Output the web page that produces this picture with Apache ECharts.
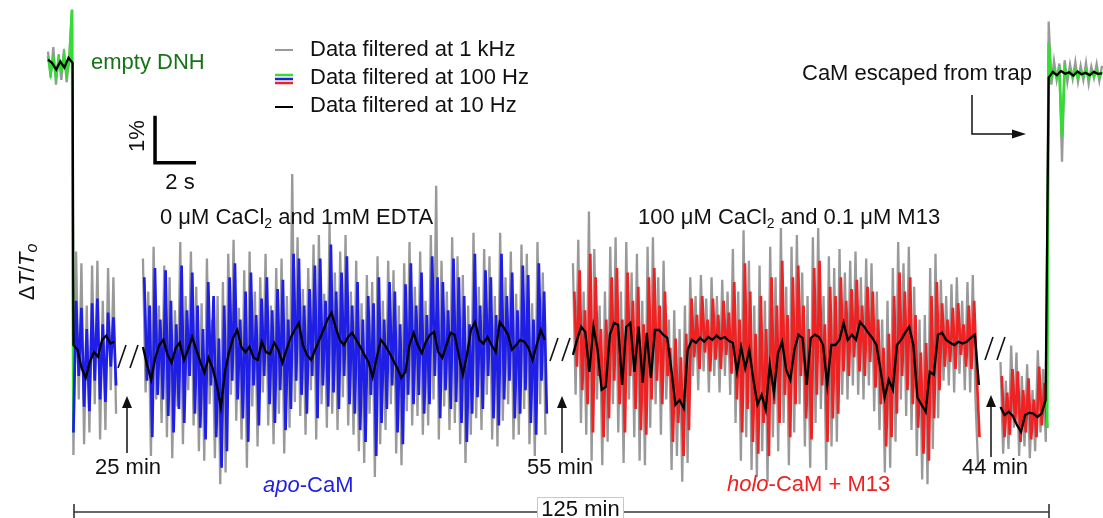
<!DOCTYPE html>
<html><head><meta charset="utf-8">
<script src="https://cdn.jsdelivr.net/npm/echarts@6/dist/echarts.min.js"></script>
<style>html,body{margin:0;padding:0;background:#fff}#c{width:1103px;height:518px}</style>
</head><body><div id="c"></div>
<script>
// Time in seconds (display time, traces separated by breaks), ΔT/To in units of 0.01 %
const segmentNames = ['empty DNH', 'apo-CaM', 'apo-CaM after 25 min', 'holo-CaM + M13 after 55 min', 'holo-CaM + M13 after 44 min', 'CaM escaped'];
const segmentStart = [0, 1.24, 4.63, 25.6, 46.45, 48.8];
const dt1k = 0.13;   // spacing of the 1 kHz / 100 Hz samples drawn
const dt10 = 0.2;    // spacing of the 10 Hz samples drawn

const dnhGray  = [630,575,640,560,625,570,635,565,620,719];
const dnhGreen = [620,585,615,578,612,590,622,584,610,719];
const dnhBlack = [613,606,592,609,596,617,606];

const apo1Gray  = [-228,205,-110,180,-205,90,-180,175,-120,185,-195,100,-175,170,-90,150,-140];
const apo1Blue  = [-180,100,-60,85,-125,40,-135,95,-70,105,-110,50,-115,75,-40,65,-80];
const apo1Black = [6,-4,-43,-64,-30,-9,-19,17,26,9,13];

const apo2Gray = [190,-95,120,-230,215,-110,90,-160,175,-190,150,-235,80,-125,225,-205,110,-90,205,-165,
 130,-220,95,-240,190,-120,60,-235,110,-290,140,-265,200,-100,230,-155,85,-195,165,-255,
 205,-125,120,-210,150,-95,200,-165,90,-205,170,-140,190,-225,110,-170,370,-115,235,-145,
 125,-185,170,-90,220,-195,240,-120,115,-170,265,-140,160,-175,205,-105,240,-165,120,-185,
 185,-220,95,-245,155,-140,140,-275,195,-205,100,-175,185,-120,165,-225,90,-250,180,-135,
 225,-165,130,-145,205,-185,100,-165,240,-110,345,-195,185,-125,120,-175,235,-160,195,-205,
 155,-245,90,-185,245,-150,130,-175,210,-100,195,-195,110,-210,245,-155,150,-120,205,-195,
 115,-185,220,-130,200,-205,95,-230,225,-120,160,-185];
const apo2Blue = [150,-70,90,-190,170,-100,60,-110,165,-145,100,-180,50,-130,175,-160,80,-60,160,-140,
 90,-170,40,-195,140,-80,110,-190,20,-255,90,-220,150,-70,180,-110,60,-150,120,-200,
 160,-80,70,-165,105,-60,150,-120,80,-160,125,-90,145,-175,60,-130,200,-70,190,-100,
 90,-140,125,-60,175,-150,190,-80,100,-125,220,-95,120,-130,160,-60,195,-120,90,-140,
 140,-175,60,-200,110,-100,95,-230,150,-160,60,-130,140,-80,120,-180,50,-205,135,-100,
 180,-120,90,-100,160,-140,70,-120,195,-60,150,-150,140,-90,80,-130,190,-115,150,-160,
 110,-200,50,-140,200,-105,90,-130,165,-60,150,-150,70,-165,200,-110,110,-70,160,-150,
 80,-140,175,-90,155,-160,60,-185,180,-70,120,-140];
const apo2Black = [2,-36,-68,-21,6,17,-15,-32,0,11,
 -26,-4,23,-4,-30,-53,-21,-43,-79,-126,
 -51,-9,21,38,2,-9,2,-21,-26,13,
 -9,-13,11,-4,-32,-4,21,38,53,6,
 -15,-26,-4,17,38,60,75,43,17,6,
 23,32,17,2,-15,-30,-62,-21,17,6,
 -9,-26,-43,-64,-51,6,32,6,-11,13,
 28,34,-9,-21,6,32,28,-15,-57,-15,
 38,55,17,9,23,6,-9,55,43,28,
 -4,6,17,13,0,-26,6,38,17];

const holoGray = [180,-100,230,-160,120,-185,290,-240,210,-110,90,-250,120,-200,215,-120,235,-180,120,-245,
 225,-110,160,-190,200,-240,100,-250,215,-170,235,-120,150,-185,185,-110,60,-260,80,-230,
 40,-285,90,-245,150,-60,110,-90,155,-50,105,-95,150,-60,110,-95,145,-60,120,-100,
 210,-160,120,-240,250,-190,185,-260,90,-275,175,-220,100,-285,215,-190,150,-220,255,-160,
 130,-250,215,-180,240,-120,160,-210,110,-255,235,-160,255,-130,110,-260,195,-210,170,-200,
 210,-100,160,-110,185,-80,205,-100,150,-110,190,-80,180,-135,120,-175,60,-265,100,-255,
 170,-200,225,-110,180,-145,215,-175,130,-230,60,-280,70,-290,170,-215,200,-150,145,-70,
 110,-80,135,-95,150,-55,100,-90,140,-95,155,-110,-255];
const holoRed = [120,-40,165,-90,80,-120,200,-180,150,-60,40,-190,60,-150,150,-70,170,-120,60,-180,
 160,-60,100,-130,130,-175,50,-185,150,-110,170,-70,90,-120,120,-60,0,-200,20,-160,
 -20,-230,30,-175,105,-20,70,-45,110,-10,60,-50,105,-25,70,-45,100,-15,75,-55,
 140,-110,60,-180,180,-130,120,-200,30,-225,110,-160,40,-230,150,-120,90,-160,185,-100,
 70,-190,150,-120,175,-60,90,-150,40,-195,170,-100,185,-80,50,-200,130,-150,110,-140,
 150,-50,100,-60,125,-20,145,-50,90,-60,130,-30,120,-85,60,-120,0,-210,30,-190,
 110,-140,160,-60,120,-90,150,-120,70,-170,-10,-225,10,-240,110,-150,140,-90,95,-40,
 60,-30,85,-45,95,-15,50,-40,90,-45,100,-60,-190];
const holoBlack = [-15,17,45,34,-51,45,-4,-89,-83,28,
 53,49,-79,45,53,-51,45,-74,32,-64,
 38,38,28,21,-47,-121,-111,-128,-4,17,
 11,21,13,23,17,26,19,23,15,11,
 -51,2,-43,-4,-68,-121,-100,-132,-36,-96,
 -11,13,-47,-68,-4,28,21,-79,21,28,
 23,6,-79,6,6,17,53,17,28,17,
 55,45,32,21,6,-47,-106,-68,-89,6,
 17,32,45,6,-106,-121,-136,-51,-57,28,
 32,17,11,6,13,9,13,21,28,-79];

const lowGray  = [-30,-225,-70,-215,5,-170,-10,-230,-60,-210,-35,-235,-90,-220,-5,-180,-45,-200];
const lowRed   = [-60,-190,-95,-185,-45,-160,-50,-200,-90,-180,-65,-195,-110,-190,-40,-165,-75,-170];
const lowBlack = [-126,-143,-136,-145,-164,-179,-143,-138,-140,-147,-140,-111];

const escGray  = [694,560,610,570,605,396,612,565,603,572,608,566,600,570,606,562,598,574,604,568,600];
const escGreen = [649,575,592,576,590,449,594,578,589,576,592,574,588,578,591,575,587,578,590,576,588];
const escBlack = [575,587,580,589,583,586,579,588,582,585,580,587,583,584];

const scaleBarPct = 1;   // %
const scaleBarSec = 2;   // s
const legendLabels = ['Data filtered at 1 kHz', 'Data filtered at 100 Hz', 'Data filtered at 10 Hz'];
const breakLabels = ['25 min', '55 min', '44 min'];
const totalLabel = '125 min';

// ---- layout / style ----
const scaleCorner = [5.22, 3.94];
const C = {gray:'#999999', green:'#33dd33', blue:'#1e1ee6', red:'#ee2222', black:'#000000', text:'#111111', dkgreen:'#177317'};
const FONT = '"Liberation Sans", Arial, Helvetica, sans-serif';
const colorShift = dt1k / 2;   // 100 Hz samples sit between the drawn 1 kHz samples

function pts(arr, t0, dt) { return arr.map((v, i) => [+(t0 + i * dt).toFixed(4), v / 100]); }
const S = segmentStart;
const gDnh = pts(dnhGray, S[0], dt1k), gApo1 = pts(apo1Gray, S[1], dt1k), gApo2 = pts(apo2Gray, S[2], dt1k),
      gHolo = pts(holoGray, S[3], dt1k), gLow = pts(lowGray, S[4], dt1k), gEsc = pts(escGray, S[5], dt1k);
const cDnh = pts(dnhGreen, S[0], dt1k), cApo1 = pts(apo1Blue, S[1], dt1k), cApo2 = pts(apo2Blue, S[2] + colorShift, dt1k),
      cHolo = pts(holoRed, S[3] + colorShift, dt1k), cLow = pts(lowRed, S[4] + colorShift, dt1k), cEsc = pts(escGreen, S[5], dt1k);
const kDnh = pts(dnhBlack, S[0], dt10), kApo1 = pts(apo1Black, S[1], dt10), kApo2 = pts(apo2Black, S[2], dt10),
      kHolo = pts(holoBlack, S[3], dt10), kLow = pts(lowBlack, S[4], dt10), kEsc = pts(escBlack, S[5], dt10);

function ln(data, color, width) {
  return {type:'line', data, symbol:'none', silent:true, animation:false, clip:false,
          lineStyle:{color, width, join:'miter', cap:'butt'}};
}
const GW = 2.3, CW = 2.7, KW = 2.3;
const series = [
  ln(gDnh.concat(gApo1), C.gray, GW), ln(gApo2, C.gray, GW), ln(gHolo, C.gray, GW), ln(gLow.concat(gEsc), C.gray, GW),
  ln(cDnh.concat([cApo1[0]]), C.green, CW), ln(cApo1, C.blue, CW), ln(cApo2, C.blue, CW),
  ln(cHolo, C.red, CW), ln(cLow, C.red, CW), ln([cLow[cLow.length - 1]].concat(cEsc), C.green, CW),
  ln(kDnh.concat(kApo1), C.black, KW), ln(kApo2, C.black, KW), ln(kHolo, C.black, KW), ln(kLow.concat(kEsc), C.black, KW),
  {type:'line', symbol:'none', silent:true, animation:false,
   data:[[scaleCorner[0], scaleCorner[1] + scaleBarPct], scaleCorner, [scaleCorner[0] + scaleBarSec, scaleCorner[1]]],
   lineStyle:{color:'#000', width:3.5, cap:'butt', join:'miter'}}
];

function T(x, y, text, extra) {
  return Object.assign({type:'text', x, y, z:100, silent:true,
    style:Object.assign({text, fontSize:22, fontFamily:FONT, fill:C.text, align:'left', verticalAlign:'middle'}, extra || {})});
}
function L(x1, y1, x2, y2, color, w) {
  return {type:'line', z:100, silent:true, shape:{x1, y1, x2, y2}, style:{stroke:color || C.text, lineWidth:w || 1.5}};
}
function upArrow(x, yTip, yBottom) {
  return [L(x, yTip + 8, x, yBottom, C.text, 1.5),
    {type:'polygon', z:100, silent:true, shape:{points:[[x, yTip], [x - 5, yTip + 12], [x + 5, yTip + 12]]}, style:{fill:C.text}}];
}
function slashes(x, y) {
  return [L(x, y + 23, x + 8, y, C.text, 1.6), L(x + 12, y + 23, x + 20, y, C.text, 1.6)];
}
const rb = {fontSize:22, fontFamily:FONT, lineHeight:26, fill:C.text};
const rsub = {fontSize:14, fontFamily:FONT, lineHeight:14, verticalAlign:'bottom', fill:C.text};

const graphic = [
  // legend
  L(275, 50, 293, 50, C.gray, 2),
  L(275, 75, 293, 75, C.green, 2.5), L(275, 79, 293, 79, C.blue, 2.5), L(275, 83, 293, 83, C.red, 2.5),
  L(275, 107, 293, 107, C.black, 2),
  T(310, 50, legendLabels[0]), T(310, 78, legendLabels[1]), T(310, 106, legendLabels[2]),
  T(91, 63, 'empty DNH', {fill:C.dkgreen}),
  Object.assign(T(138, 136, '1%', {align:'center'}), {rotation:Math.PI / 2}),
  T(180, 183, '2 s', {align:'center'}),
  T(160, 218, '{n|0 μM CaCl}{s|2}{n| and 1mM EDTA}', {rich:{n:rb, s:rsub}}),
  T(638, 218, '{n|100 μM CaCl}{s|2}{n| and 0.1 μM M13}', {rich:{n:rb, s:rsub}}),
  T(802, 74, 'CaM escaped from trap'),
  {type:'polyline', z:100, silent:true, shape:{points:[[972, 95], [972, 134], [1014, 134]]}, style:{stroke:C.text, lineWidth:1.5, fill:null}},
  {type:'polygon', z:100, silent:true, shape:{points:[[1026, 134], [1012, 129.5], [1012, 138.5]]}, style:{fill:C.text}},
  Object.assign(T(28, 272, '{n|Δ}{i|T}{n|/}{i|T}{s|o}', {align:'center',
    rich:{n:rb, i:Object.assign({}, rb, {fontStyle:'italic'}), s:Object.assign({}, rsub, {fontSize:16, lineHeight:16, fontStyle:'italic'})}}),
    {rotation:Math.PI / 2}),
  T(128, 468, breakLabels[0], {align:'center'}), T(560, 468, breakLabels[1], {align:'center'}), T(995, 468, breakLabels[2], {align:'center'}),
  ...upArrow(127, 396, 453), ...upArrow(562, 396, 453), ...upArrow(991, 395, 457),
  ...slashes(118, 345), ...slashes(550, 338), ...slashes(985, 337),
  T(263, 486, '{i|apo}{n|-CaM}', {rich:{i:Object.assign({}, rb, {fontStyle:'italic', fill:C.blue}), n:Object.assign({}, rb, {fill:C.blue})}}),
  T(727, 485, '{i|holo}{n|-CaM + M13}', {rich:{i:Object.assign({}, rb, {fontStyle:'italic', fill:C.red}), n:Object.assign({}, rb, {fill:C.red})}}),
  L(74, 512, 1049, 512, '#333', 1.6), L(74, 504, 74, 518, '#333', 1.6), L(1049, 504, 1049, 518, '#333', 1.6),
  {type:'rect', z:101, silent:true, shape:{x:537.5, y:497.5, width:86, height:24}, style:{fill:'#fff', stroke:'#c8c8c8', lineWidth:1}},
  Object.assign(T(580.5, 510, totalLabel, {align:'center'}), {z:102})
];

const chart = echarts.init(document.getElementById('c'), null, {renderer:'canvas'});
chart.setOption({
  animation:false,
  backgroundColor:'#ffffff',
  grid:{left:48, right:1, top:0, bottom:0},
  xAxis:{type:'value', min:0, max:51.4, show:false},
  yAxis:{type:'value', min:-3.62, max:7.4, show:false},
  series,
  graphic
});
</script></body></html>
